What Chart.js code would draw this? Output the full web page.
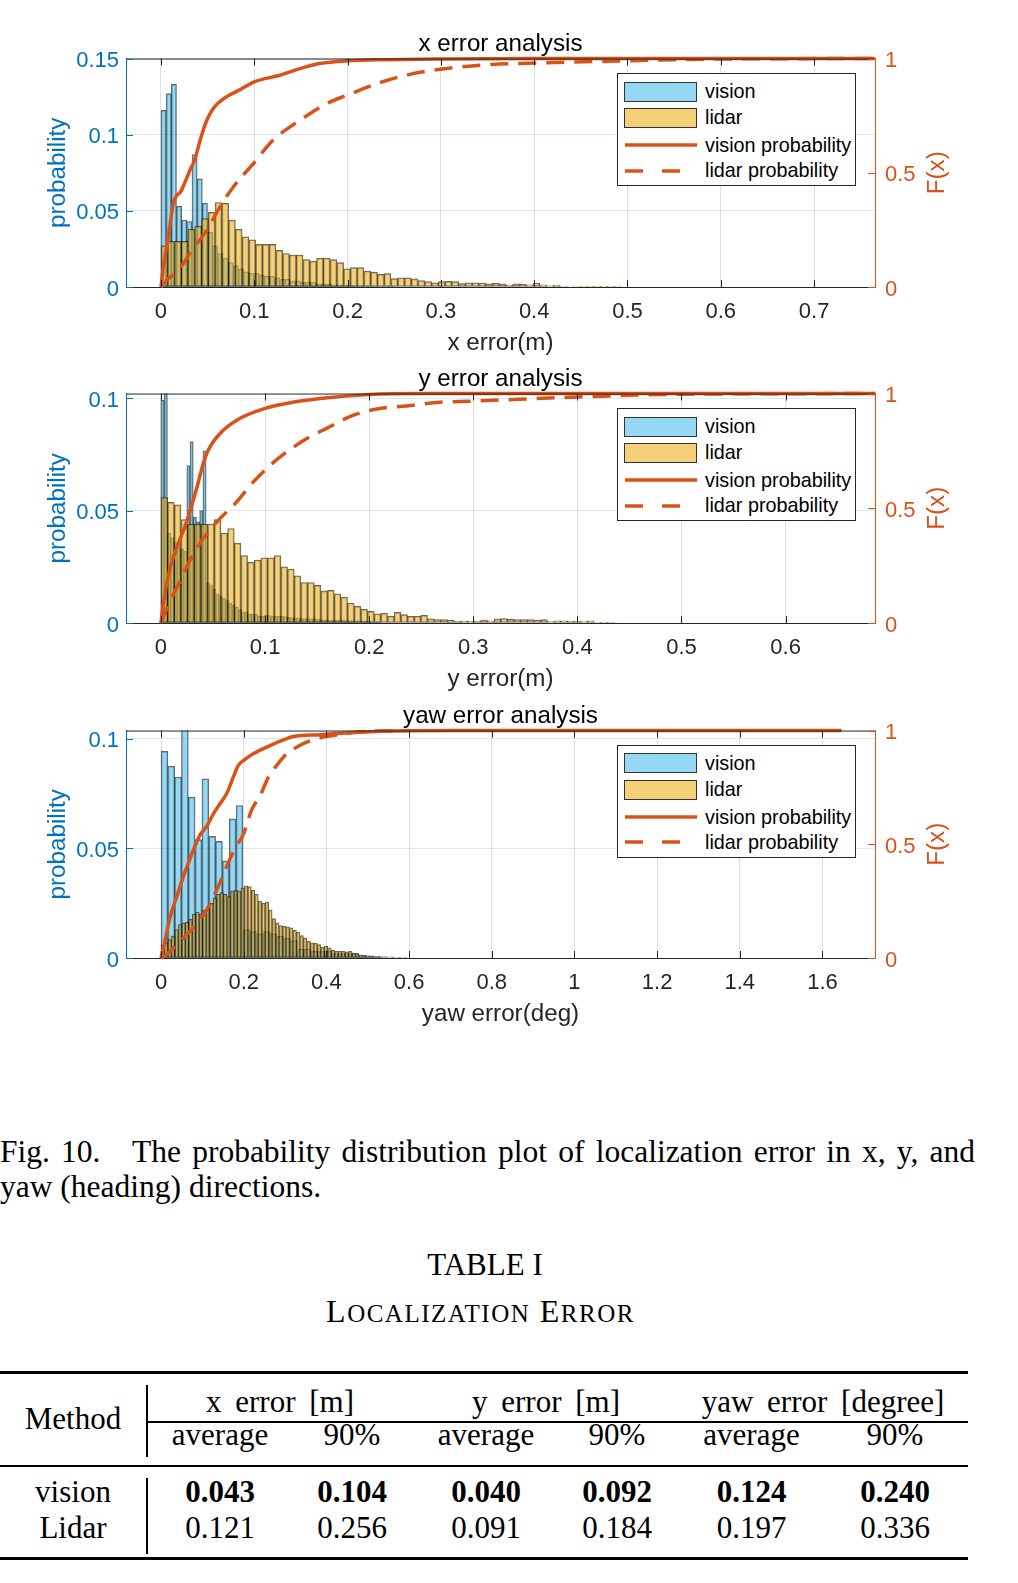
<!DOCTYPE html>
<html>
<head>
<meta charset="utf-8">
<script src="https://cdn.jsdelivr.net/npm/chart.js@4.4.1/dist/chart.umd.min.js"></script>
<style>
  html, body { margin: 0; padding: 0; background: #fff; }
  #page { position: relative; width: 1018px; height: 1583px; overflow: hidden; background: #fff; }
  #page canvas { position: absolute; left: 0; }
  .legend { position: absolute; left: 617px; width: 237px; height: 111px; border: 1px solid #262626; background: #fff;
            font: 19.8px 'Liberation Sans', Arial, sans-serif; color: #000; }
  .legend .row { position: absolute; left: 0; height: 26px; display: flex; align-items: center; }
  .legend svg { margin-left: 6px; margin-right: 7px; }
  .serif { position: absolute; font-family: 'Liberation Serif', 'Times New Roman', serif; line-height: 1; color: #000; white-space: nowrap; }
  .sc { font-size: 25px; }
  .rule { position: absolute; background: #000; }
</style>
</head>
<body>
<div id="page">
  <canvas id="cx" width="1018" height="359" style="top:0px"></canvas>
  <canvas id="cy" width="1018" height="360" style="top:335px"></canvas>
  <canvas id="cyaw" width="1018" height="358" style="top:672px"></canvas>
</div>
<script>
const BLUE = '#0072BD';
const ORANGE = '#D95319';
const AXIS = '#262626';

// ---- x error ----
const xTicks = [0, 0.1, 0.2, 0.3, 0.4, 0.5, 0.6, 0.7];
const xProbTicks = [0, 0.05, 0.1, 0.15];
const xVisionBinWidth = 0.00554;
const xVisionProb = [0.116, 0.127, 0.133, 0.053, 0.044, 0.043, 0.087, 0.071, 0.055, 0.036, 0.027, 0.022, 0.019, 0.016,
  0.014, 0.012, 0.010, 0.009, 0.009, 0.008, 0.007, 0.007, 0.006, 0.005, 0.005, 0.004, 0.004, 0.003, 0.003, 0.003,
  0.002, 0.002, 0.002, 0.0015, 0.0015, 0.001, 0.001, 0.001, 0.0008, 0.0006, 0.0005, 0.0004, 0.0003, 0.0003, 0.0002];
const xLidarBinWidth = 0.00725;
const xLidarProb = [0.027, 0.030, 0.030, 0.030, 0.038, 0.040, 0.045, 0.049, 0.0555, 0.055, 0.044, 0.038, 0.033, 0.031,
  0.028, 0.028, 0.028, 0.024, 0.022, 0.021, 0.021, 0.018, 0.017, 0.019, 0.019,
  0.018, 0.016, 0.012, 0.0127, 0.0127, 0.0105, 0.0098, 0.0083, 0.0088, 0.0055, 0.0061, 0.0061, 0.0053, 0.0042,
  0.0035, 0.0028, 0.0035, 0.0037, 0.0035, 0.0022, 0.0028, 0.0028, 0.0026, 0.002, 0.0024, 0.002, 0.0013, 0.002,
  0.0018, 0.0015, 0.0026, 0.0015, 0.0007, 0.0013, 0.0004, 0.0003, 0.0003, 0.0002, 0.0002, 0.0002, 0.0001, 0.0002, 0.0001];
const xVisionCdfErr = [0, 0.0025, 0.0079, 0.0132, 0.022, 0.031, 0.036, 0.042, 0.047, 0.056, 0.070, 0.085, 0.100, 0.1275,
  0.149, 0.170, 0.200, 0.242, 0.30, 0.40, 0.765];
const xVisionCdf = [0, 0.088, 0.219, 0.365, 0.423, 0.511, 0.555, 0.642, 0.708, 0.781, 0.832, 0.864, 0.898, 0.927,
  0.956, 0.978, 0.99, 0.995, 0.998, 1, 1];
const xLidarCdfErr = [0, 0.006, 0.0186, 0.033, 0.049, 0.063, 0.0775, 0.099, 0.12, 0.149, 0.1775, 0.2, 0.235, 0.27,
  0.306, 0.342, 0.40, 0.50, 0.60, 0.765];
const xLidarCdf = [0, 0.029, 0.073, 0.16, 0.248, 0.35, 0.438, 0.54, 0.642, 0.73, 0.803, 0.84, 0.895, 0.934,
  0.956, 0.971, 0.98, 0.99, 0.998, 1];

// ---- y error ----
const yTicks = [0, 0.1, 0.2, 0.3, 0.4, 0.5, 0.6];
const yProbTicks = [0, 0.05, 0.1];
const yVisionBinWidth = 0.0031;
const yVisionProb = [0.099, 0.11, 0.040, 0.038, 0.036, 0.034, 0.033, 0.032, 0.070, 0.0806, 0.047, 0.045, 0.050, 0.0765,
  0.018, 0.017, 0.015, 0.013, 0.012, 0.011, 0.01, 0.009, 0.008, 0.007, 0.006, 0.005, 0.005, 0.004, 0.004, 0.004,
  0.003, 0.003, 0.0035, 0.0033, 0.0032, 0.003, 0.003, 0.003, 0.0028, 0.0025, 0.0024, 0.0022, 0.0022, 0.002, 0.002,
  0.002, 0.0018, 0.0018, 0.0017, 0.0015, 0.0014, 0.0014, 0.0013, 0.0013, 0.0012, 0.0012, 0.0012, 0.0011, 0.0011,
  0.001, 0.001, 0.001, 0.0009, 0.0009, 0.0005, 0.0004, 0.0004, 0.0003];
const yLidarBinWidth = 0.0064;
const yLidarProb = [0.0558, 0.0536, 0.0525, 0.046, 0.044, 0.044, 0.044, 0.044, 0.046, 0.040, 0.042, 0.0355, 0.030,
  0.027, 0.028, 0.029, 0.029, 0.030, 0.025, 0.024, 0.021, 0.018, 0.018, 0.0167, 0.0143,
  0.0145, 0.013, 0.0115, 0.0089, 0.0074, 0.0062, 0.0052, 0.0041, 0.0044, 0.003, 0.0047, 0.0037, 0.003, 0.003, 0.0034,
  0.0018, 0.0015, 0.0015, 0.0012, 0.0009, 0.0008, 0.0008, 0.0009, 0.0013, 0.001, 0.0018, 0.002, 0.0016, 0.0015,
  0.0015, 0.0015, 0.0012, 0.0015, 0.0006, 0.001, 0.001, 0.0009, 0.0008, 0.0006, 0.001, 0.0003, 0.0002, 0.0002];
const yVisionCdfErr = [0, 0.0022, 0.0087, 0.015, 0.0247, 0.0343, 0.0407, 0.0455, 0.0567, 0.0728, 0.100, 0.121, 0.153,
  0.200, 0.249, 0.35, 0.686];
const yVisionCdf = [0, 0.08, 0.239, 0.326, 0.442, 0.587, 0.696, 0.754, 0.826, 0.884, 0.935, 0.957, 0.978,
  0.996, 1, 1, 1];
const yLidarCdfErr = [0, 0.0087, 0.018, 0.028, 0.041, 0.057, 0.07, 0.089, 0.105, 0.121, 0.14, 0.159, 0.185, 0.21,
  0.236, 0.265, 0.30, 0.40, 0.50, 0.686];
const yLidarCdf = [0, 0.094, 0.18, 0.275, 0.37, 0.457, 0.514, 0.616, 0.688, 0.746, 0.804, 0.848, 0.906, 0.935,
  0.946, 0.961, 0.967, 0.985, 0.997, 1];

// ---- yaw error ----
const yawTicks = [0, 0.2, 0.4, 0.6, 0.8, 1, 1.2, 1.4, 1.6];
const yawProbTicks = [0, 0.05, 0.1];
const yawVisionBinWidth = 0.0165;
const yawVisionProb = [0.0943, 0.0875, 0.0826, 0.108, 0.0734, 0.054, 0.0818, 0.0555, 0.0532, 0.0443, 0.0635, 0.0696,
  0.013, 0.012, 0.011, 0.012, 0.011, 0.01, 0.009, 0.008, 0.004, 0.004, 0.003, 0.003, 0.003, 0.002, 0.002, 0.002,
  0.002, 0.001, 0.001, 0.0008, 0.0006, 0.0005, 0.0004, 0.0003];
const yawLidarBinWidth = 0.0084;
const yawLidarProb = [0.006, 0.007, 0.0084, 0.010, 0.013, 0.0153, 0.016, 0.0163, 0.0176, 0.020, 0.021, 0.020, 0.0217,
  0.023, 0.025, 0.0275, 0.029, 0.0298, 0.029, 0.028, 0.0306, 0.031, 0.0306, 0.032, 0.0329, 0.0326, 0.031, 0.029,
  0.026, 0.025, 0.0255, 0.022, 0.018, 0.016, 0.0148, 0.0145, 0.0142, 0.0138, 0.0127, 0.0118, 0.0102, 0.0092, 0.0076,
  0.0069, 0.0068, 0.0061, 0.005, 0.0053, 0.0046, 0.0035, 0.003, 0.0032, 0.003, 0.0028, 0.003, 0.0023, 0.002,
  0.0015, 0.0012, 0.001, 0.0008, 0.0007, 0.0005, 0.0004];
const yawVisionCdfErr = [0, 0.01, 0.022, 0.038, 0.054, 0.066, 0.078, 0.094, 0.11, 0.127, 0.143, 0.159, 0.175, 0.187,
  0.2, 0.223, 0.264, 0.304, 0.32, 0.385, 0.465, 0.53, 0.7, 1.646];
const yawVisionCdf = [0, 0.08, 0.18, 0.27, 0.358, 0.416, 0.474, 0.54, 0.577, 0.635, 0.679, 0.723, 0.796, 0.847,
  0.869, 0.898, 0.934, 0.964, 0.974, 0.982, 0.991, 0.997, 1, 1];
const yawLidarCdfErr = [0, 0.0137, 0.03, 0.05, 0.07, 0.09, 0.11, 0.135, 0.155, 0.179, 0.2, 0.219, 0.24, 0.26, 0.28,
  0.304, 0.328, 0.352, 0.385, 0.417, 0.47, 0.6];
const yawLidarCdf = [0, 0.015, 0.044, 0.08, 0.117, 0.16, 0.21, 0.30, 0.387, 0.482, 0.547, 0.65, 0.715, 0.796, 0.847,
  0.898, 0.927, 0.949, 0.968, 0.978, 0.993, 1];

const cdfTicks = [0, 0.5, 1];

// ---- table ----
const tableGroups = ['x error [m]', 'y error [m]', 'yaw error [degree]'];
const tableSub = ['average', '90%', 'average', '90%', 'average', '90%'];
const tableMethods = ['vision', 'Lidar'];
const visionRow = ['0.043', '0.104', '0.040', '0.092', '0.124', '0.240'];
const lidarRow = ['0.121', '0.256', '0.091', '0.184', '0.197', '0.336'];

Chart.defaults.font.family = "'Liberation Sans', Arial, sans-serif";
Chart.defaults.color = AXIS;

// bins start at 0, value i sits in the middle of bin i
const hist = (vals, w) => vals.map((v, i) => ({ x: (i + 0.5) * w, y: v }));
const zip = (xs, ys) => xs.map((x, i) => ({ x, y: ys[i] }));
const setTicks = list => scale => { scale.ticks = list.map(v => ({ value: v })); };

// matlab style box: top edge, inward ticks, right hand label
const frame = {
  id: 'frame',
  afterDraw(chart) {
    const { ctx, chartArea: a, scales } = chart;
    const tl = 7;
    ctx.save();
    ctx.lineWidth = 1;
    ctx.strokeStyle = AXIS;
    ctx.beginPath();
    ctx.moveTo(a.left, a.top + 0.5);
    ctx.lineTo(a.right, a.top + 0.5);
    scales.x.ticks.forEach(t => {
      const px = Math.round(scales.x.getPixelForValue(t.value)) + 0.5;
      ctx.moveTo(px, a.bottom); ctx.lineTo(px, a.bottom - tl);
      ctx.moveTo(px, a.top); ctx.lineTo(px, a.top + tl);
    });
    ctx.stroke();
    ctx.strokeStyle = BLUE;
    ctx.beginPath();
    scales.y.ticks.forEach(t => {
      const py = Math.round(scales.y.getPixelForValue(t.value)) + 0.5;
      ctx.moveTo(a.left, py); ctx.lineTo(a.left + tl, py);
    });
    ctx.stroke();
    ctx.strokeStyle = ORANGE;
    ctx.beginPath();
    scales.y2.ticks.forEach(t => {
      const py = Math.round(scales.y2.getPixelForValue(t.value)) + 0.5;
      ctx.moveTo(a.right, py); ctx.lineTo(a.right - tl, py);
    });
    ctx.stroke();
    ctx.translate(scales.y2.left + 62, (a.top + a.bottom) / 2);
    ctx.rotate(-Math.PI / 2);
    ctx.fillStyle = ORANGE;
    ctx.font = "24.2px 'Liberation Sans', Arial, sans-serif";
    ctx.textAlign = 'center';
    ctx.textBaseline = 'middle';
    ctx.fillText('F(x)', 0, 0);
    ctx.restore();
  }
};

function makeChart(id, c) {
  const barStyle = { borderColor: 'rgba(0,0,0,0.6)', borderWidth: 1, borderSkipped: false,
    barPercentage: 1, categoryPercentage: 1, grouped: false, yAxisID: 'y' };
  const lineStyle = { type: 'line', xAxisID: 'x', yAxisID: 'y2', borderColor: ORANGE, borderWidth: 3.5,
    pointRadius: 0, cubicInterpolationMode: 'monotone', clip: false, fill: false };
  return new Chart(document.getElementById(id), {
    type: 'bar',
    data: {
      datasets: [
        { ...lineStyle, label: 'vision probability', data: zip(c.vCdfX, c.vCdf), order: 0 },
        { ...lineStyle, label: 'lidar probability', data: zip(c.lCdfX, c.lCdf), borderDash: [18, 10], order: 1 },
        { ...barStyle, label: 'lidar', data: hist(c.lidar, c.lidarW), xAxisID: 'x2',
          backgroundColor: 'rgba(237,177,32,0.6)', order: 2 },
        { ...barStyle, label: 'vision', data: hist(c.vision, c.visionW), xAxisID: 'x',
          backgroundColor: 'rgba(77,190,238,0.6)', order: 3 }
      ]
    },
    options: {
      responsive: false,
      animation: false,
      events: [],
      layout: { padding: 0 },
      plugins: {
        legend: { display: false },
        tooltip: { enabled: false },
        title: { display: true, text: c.title, color: '#000', fullSize: false,
          font: { size: 24.2, weight: 'normal' }, padding: { top: 29.5, bottom: 0 } }
      },
      scales: {
        x: {
          type: 'linear', position: 'bottom', min: c.xMin, max: c.xMax, offset: false,
          afterBuildTicks: setTicks(c.xTicks),
          afterFit: s => { s.height = 72; },
          ticks: { color: AXIS, font: { size: 22 }, padding: 12, maxRotation: 0, autoSkip: false, callback: v => String(v) },
          grid: { color: 'rgba(38,38,38,0.15)', drawTicks: false, offset: false },
          border: { color: AXIS },
          title: { display: true, text: c.xLabel, color: AXIS, font: { size: 24.2 }, padding: { top: 0, bottom: 1 } }
        },
        x2: { type: 'linear', display: false, min: c.xMin, max: c.xMax, offset: false },
        y: {
          position: 'left', min: 0, max: c.yMax,
          afterBuildTicks: setTicks(c.yTicks),
          afterFit: s => { s.width = 126; },
          ticks: { color: BLUE, font: { size: 22 }, padding: 7, labelOffset: 2.5, callback: v => String(v) },
          grid: { color: 'rgba(0,114,189,0.15)', drawTicks: false },
          border: { color: BLUE },
          title: { display: true, text: 'probability', color: BLUE, font: { size: 24.2 }, padding: { top: 44, bottom: 0 } }
        },
        y2: {
          position: 'right', min: 0, max: 1,
          afterBuildTicks: setTicks(cdfTicks),
          afterFit: s => { s.width = 143; },
          ticks: { color: ORANGE, font: { size: 22 }, padding: 10, labelOffset: 2.5, callback: v => String(v) },
          grid: { display: false, drawTicks: false },
          border: { color: ORANGE }
        }
      }
    },
    plugins: [frame]
  });
}

makeChart('cx', { title: 'x error analysis', xLabel: 'x error(m)', xMin: -0.0375, xMax: 0.7653, yMax: 0.15,
  xTicks, yTicks: xProbTicks, vision: xVisionProb, visionW: xVisionBinWidth, lidar: xLidarProb, lidarW: xLidarBinWidth,
  vCdfX: xVisionCdfErr, vCdf: xVisionCdf, lCdfX: xLidarCdfErr, lCdf: xLidarCdf });
makeChart('cy', { title: 'y error analysis', xLabel: 'y error(m)', xMin: -0.0336, xMax: 0.6859, yMax: 0.102,
  xTicks: yTicks, yTicks: yProbTicks, vision: yVisionProb, visionW: yVisionBinWidth, lidar: yLidarProb, lidarW: yLidarBinWidth,
  vCdfX: yVisionCdfErr, vCdf: yVisionCdf, lCdfX: yLidarCdfErr, lCdf: yLidarCdf });
makeChart('cyaw', { title: 'yaw error analysis', xLabel: 'yaw error(deg)', xMin: -0.0847, xMax: 1.727, yMax: 0.1038,
  xTicks: yawTicks, yTicks: yawProbTicks, vision: yawVisionProb, visionW: yawVisionBinWidth, lidar: yawLidarProb, lidarW: yawLidarBinWidth,
  vCdfX: yawVisionCdfErr, vCdf: yawVisionCdf, lCdfX: yawLidarCdfErr, lCdf: yawLidarCdf });

// legends (html boxes inside each plot)
const page = document.getElementById('page');
const legendItems = [
  { text: 'vision', swatch: '<rect x="0.5" y="0.5" width="72" height="19" fill="rgba(77,190,238,0.6)" stroke="#333"/>' },
  { text: 'lidar', swatch: '<rect x="0.5" y="0.5" width="72" height="19" fill="rgba(237,177,32,0.6)" stroke="#333"/>' },
  { text: 'vision probability', swatch: '<line x1="1" y1="10" x2="73" y2="10" stroke="' + ORANGE + '" stroke-width="3.5"/>' },
  { text: 'lidar probability', swatch: '<line x1="1" y1="10" x2="73" y2="10" stroke="' + ORANGE + '" stroke-width="3.5" stroke-dasharray="18 19"/>' }
];
const legendRowCentres = [17.3, 43.7, 71, 96.3];
[73.3, 408.3, 745].forEach(top => {
  const box = document.createElement('div');
  box.className = 'legend';
  box.style.top = top + 'px';
  legendItems.forEach((it, i) => {
    const row = document.createElement('div');
    row.className = 'row';
    row.style.top = (legendRowCentres[i] - 13) + 'px';
    row.innerHTML = '<svg width="74" height="20">' + it.swatch + '</svg><span>' + it.text + '</span>';
    box.appendChild(row);
  });
  page.appendChild(box);
});

// caption, table title and table (serif text placed by baseline)
function text(str, x, baseline, size, opts = {}) {
  const d = document.createElement('div');
  d.className = 'serif';
  d.style.fontSize = size + 'px';
  d.style.top = (baseline - 0.8375 * size) + 'px';
  if (opts.center) { d.style.left = x + 'px'; d.style.transform = 'translateX(-50%)'; }
  else d.style.left = x + 'px';
  if (opts.bold) d.style.fontWeight = 'bold';
  if (opts.width) { d.style.width = opts.width + 'px'; d.style.whiteSpace = 'normal'; d.style.textAlign = 'justify'; d.style.textAlignLast = 'justify'; }
  if (opts.wordSpacing) d.style.wordSpacing = opts.wordSpacing + 'px';
  if (opts.letterSpacing) d.style.letterSpacing = opts.letterSpacing + 'px';
  d.innerHTML = str;
  page.appendChild(d);
  return d;
}
function rule(x, y, w, h) {
  const r = document.createElement('div');
  r.className = 'rule';
  r.style.left = x + 'px'; r.style.top = y + 'px'; r.style.width = w + 'px'; r.style.height = h + 'px';
  page.appendChild(r);
}

text('Fig. 10.&emsp;The probability distribution plot of localization error in x, y, and', 0, 1162, 31.5, { width: 975 });
text('yaw (heading) directions.', 0, 1197, 31.5);
text('TABLE I', 485, 1275, 31, { center: true });
text('L<span class="sc">OCALIZATION</span> E<span class="sc">RROR</span>', 480.5, 1322, 32, { center: true, letterSpacing: 1.5 });

rule(0, 1370.5, 968, 3);
rule(147, 1421, 821, 1.5);
rule(0, 1464.7, 968, 2);
rule(0, 1556.5, 968, 3);
rule(146, 1385, 1.5, 72);
rule(146, 1478, 1.5, 76);

const groupCentres = [280, 546, 823];
const colCentres = [220, 352, 486, 617, 751.5, 895];
text('Method', 73, 1429, 31, { center: true });
tableGroups.forEach((g, i) => text(g, groupCentres[i], 1412, 31, { center: true, wordSpacing: 6 }));
tableSub.forEach((s, i) => text(s, colCentres[i], 1445, 31, { center: true }));
text(tableMethods[0], 73, 1502, 31, { center: true });
text(tableMethods[1], 73, 1538, 31, { center: true });
visionRow.forEach((v, i) => text(v, colCentres[i], 1502, 31, { center: true, bold: true }));
lidarRow.forEach((v, i) => text(v, colCentres[i], 1538, 31, { center: true }));
</script>
</body>
</html>
